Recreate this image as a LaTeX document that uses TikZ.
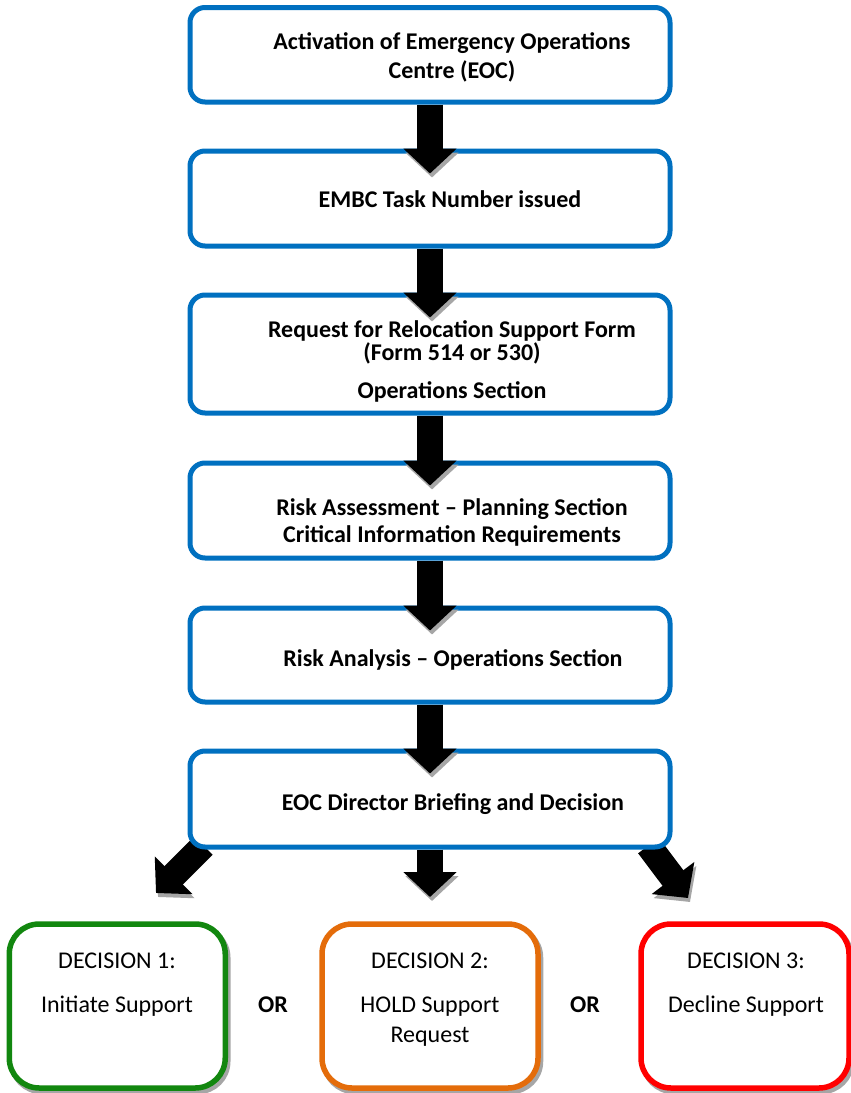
\documentclass[tikz,border=0pt]{standalone}
\usepackage{fontspec}
\setmainfont{Carlito}
\usetikzlibrary{arrows.meta}
\definecolor{eocblue}{HTML}{0070C0}
\definecolor{decgreen}{HTML}{12870F}
\definecolor{decorange}{HTML}{E46C0A}
\definecolor{decred}{HTML}{FF0000}
\definecolor{shadowgray}{HTML}{A6A6A6}
\pgfdeclarelayer{bg}
\pgfsetlayers{bg,main}
\begin{document}
\begin{tikzpicture}[x=1pt,y=-1pt,
  bluebox/.style={draw=eocblue, line width=5pt, rounded corners=15pt, fill=white,
    minimum width=480pt, inner sep=0pt},
  decbox/.style={line width=5.5pt, rounded corners=30pt, fill=white,
    minimum width=216pt, minimum height=164pt, inner sep=0pt,
    preaction={draw=shadowgray, transform canvas={shift={(2.5pt,-3.5pt)}}}},
  blockarrow/.style={draw=black, line width=26pt, line cap=butt,
    -{Triangle[width=52pt,length=25pt]},
    preaction={draw=shadowgray, transform canvas={shift={(2pt,-4pt)}}}},
  btxt/.style={anchor=base, inner sep=0pt, font=\fontsize{24}{29}\selectfont\bfseries},
  rtxt/.style={anchor=base, inner sep=0pt, font=\fontsize{24}{29}\selectfont}]
\useasboundingbox (0,0) rectangle (851,1093);

% blue process boxes
\node[bluebox, minimum height=94.5pt] (b1) at (430,54.75) {};
\node[bluebox, minimum height=95pt]   (b2) at (430,198.5) {};
\node[bluebox, minimum height=118pt]  (b3) at (430,354) {};
\node[bluebox, minimum height=95pt]   (b4) at (430,510.5) {};
\node[bluebox, minimum height=94pt]   (b5) at (430,655) {};
\node[bluebox, minimum height=96pt]   (b6) at (430,799) {};

% texts in blue boxes
\node[btxt] (t1a) at (452,49) {Activation of Emergency Operations};
\node[btxt] (t1b) at (452,78) {Centre (EOC)};
\node[btxt] (t2)  at (450,207) {EMBC Task Number issued};
\node[btxt] (t3a) at (452,337) {Request for Relocation Support Form};
\node[btxt] (t3b) at (452,360) {(Form 514 or 530)};
\node[btxt] (t3c) at (452,398) {Operations Section};
\node[btxt] (t4a) at (452,515) {Risk Assessment – Planning Section};
\node[btxt] (t4b) at (452,542) {Critical Information Requirements};
\node[btxt] (t5)  at (453,666) {Risk Analysis – Operations Section};
\node[btxt] (t6)  at (453,810) {EOC Director Briefing and Decision};

% decision boxes
\node[decbox, draw=decgreen]  (d1) at (117.25,1006) {};
\node[decbox, draw=decorange] (d2) at (430,1006) {};
\node[decbox, draw=decred, minimum width=208pt] (d3) at (745,1006) {};

\node[rtxt] (d1a) at (117,968)  {DECISION 1:};
\node[rtxt] (d1b) at (117,1012) {Initiate Support};
\node[rtxt] (d2a) at (430,968)  {DECISION 2:};
\node[rtxt] (d2b) at (430,1012) {HOLD Support};
\node[rtxt] (d2c) at (430,1042) {Request};
\node[rtxt] (d3a) at (746,968)  {DECISION 3:};
\node[rtxt] (d3b) at (746,1012) {Decline Support};
\node[btxt] (or1) at (273,1012) {OR};
\node[btxt] (or2) at (585,1012) {OR};

% vertical block arrows
\draw[blockarrow, shorten >=-25pt] (b1.south) -- (b2.north);
\draw[blockarrow, shorten >=-25pt] (b2.south) -- (b3.north);
\draw[blockarrow, shorten >=-25pt] (b3.south) -- (b4.north);
\draw[blockarrow, shorten >=-25pt] (b4.south) -- (b5.north);
\draw[blockarrow, shorten >=-25pt] (b5.south) -- (b6.north);
\coordinate (tipc) at (430,897);
\draw[blockarrow] (b6.south) -- (tipc);

% diagonal block arrows (emerging from under the last box)
\coordinate (tipl) at (156,893);
\coordinate (tipr) at (688,898);
\begin{pgfonlayer}{bg}
\draw[blockarrow] ([xshift=16pt,yshift=4pt]b6.south west) -- (tipl);
\draw[blockarrow] ([xshift=-24pt,yshift=4pt]b6.south east) -- (tipr);
\end{pgfonlayer}
\end{tikzpicture}
\end{document}
